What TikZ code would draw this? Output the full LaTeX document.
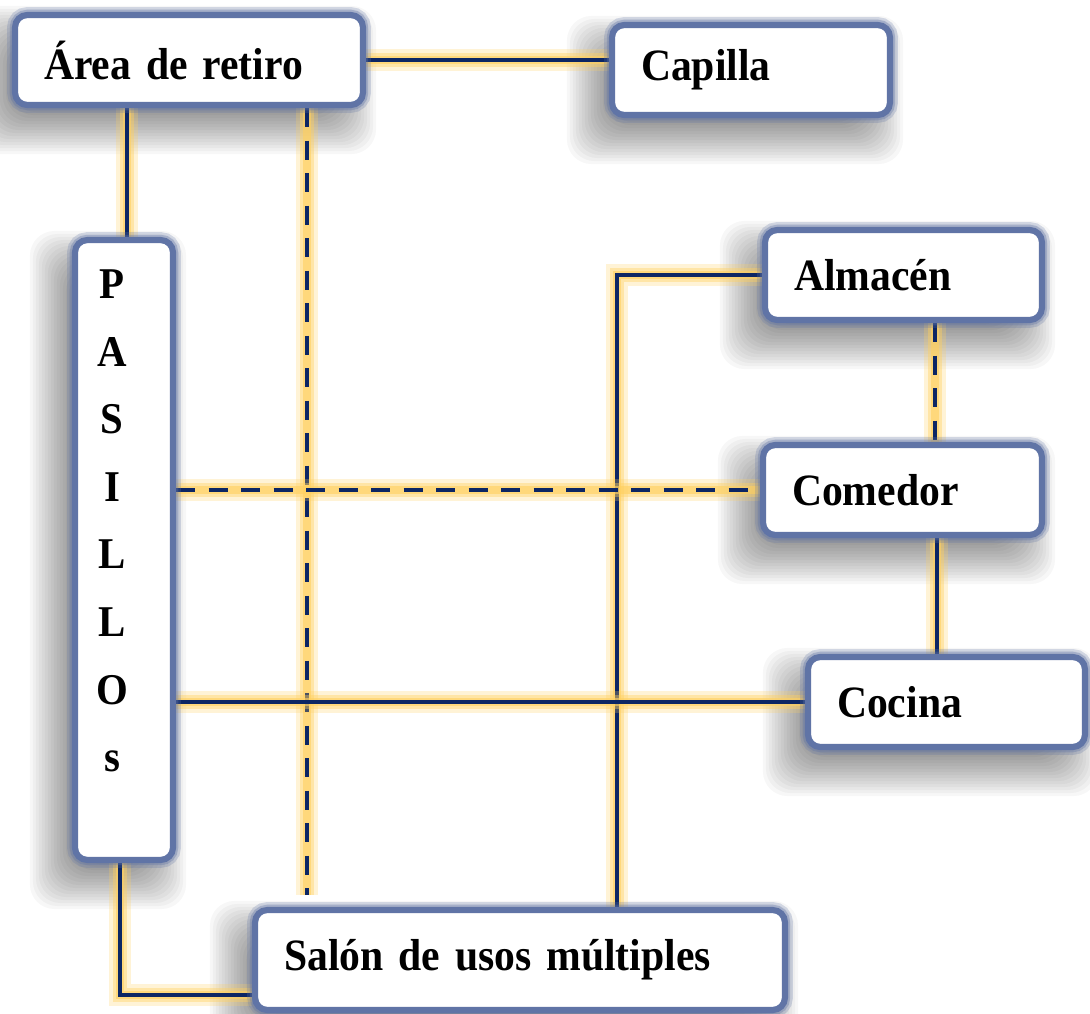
\documentclass[tikz,border=0pt]{standalone}
\usepackage{fontspec}
\setmainfont[FakeStretch=0.93]{Liberation Serif}
\usetikzlibrary{calc}
\definecolor{navy}{RGB}{12,38,100}
\definecolor{glowc}{RGB}{255,208,95}
\definecolor{boxblue}{RGB}{96,116,166}
\pgfdeclarelayer{bottom}
\pgfdeclarelayer{shadow}
\pgfdeclarelayer{lines}
\pgfsetlayers{bottom,shadow,lines,main}
\newcommand\boxfont{\fontsize{25.5}{30}\selectfont\bfseries}
\newcommand\pasfont{\fontsize{25}{38.5}\selectfont\bfseries}
\newcommand\softshadow[1]{%
  \begin{pgfonlayer}{shadow}
  \foreach \e in {26,23,...,-22} {
    \fill[black, opacity=0.03, rounded corners=14pt]
      ($(#1.north west)+(-16-\e,20-\e)$) rectangle ($(#1.south east)+(-16+\e,20+\e)$);
  }
  \end{pgfonlayer}}
\begin{document}
\begin{tikzpicture}[x=0.02cm,y=-0.02cm,
  box/.style={rectangle, rounded corners=7pt, fill=white, draw=boxblue, line width=3.5pt,
    preaction={draw=boxblue, draw opacity=.25, line width=9pt},
    preaction={draw=boxblue, draw opacity=.35, line width=6pt},
    inner xsep=0pt, inner ysep=0pt, align=left, font=\boxfont},
  conn/.style={draw=navy, line width=2.3pt,
    preaction={draw=glowc, line width=12pt, draw opacity=.25, solid},
    preaction={draw=glowc, line width=8.5pt, draw opacity=.4, solid},
    preaction={draw=glowc, line width=5pt, draw opacity=.6, solid}},
  dsh/.style={dash pattern=on 11pt off 7.5pt}]
\useasboundingbox (0,0) rectangle (1090,1014);
\begin{pgfonlayer}{bottom}
\fill[white] (0,0) rectangle (1090,1014);
\end{pgfonlayer}

\node[box, minimum width=6.96cm, minimum height=1.8cm, text width=5.8cm] (are) at (189,60) {Área de retiro};
\node[box, minimum width=5.56cm, minimum height=1.8cm, text width=4.4cm] (cap) at (751,70) {Capilla};
\node[box, minimum width=1.96cm, minimum height=12.4cm] (pas) at (124,550) {};
\node[font=\pasfont, align=center, inner sep=0pt] (pastxt) at (112,521) {P\\A\\S\\I\\L\\L\\O\\s};
\node[box, minimum width=5.54cm, minimum height=1.8cm, text width=4.38cm] (alm) at (903.5,275) {Almacén};
\node[box, minimum width=5.58cm, minimum height=1.8cm, text width=4.42cm] (com) at (902.5,490) {Comedor};
\node[box, minimum width=5.54cm, minimum height=1.8cm, text width=4.38cm] (coc) at (946.5,702) {Cocina};
\node[box, minimum width=10.6cm, minimum height=2cm, text width=9.44cm] (sal) at (520,960) {Salón de usos múltiples};

\softshadow{are}
\softshadow{cap}
\softshadow{pas}
\softshadow{alm}
\softshadow{com}
\softshadow{coc}
\softshadow{sal}

\begin{pgfonlayer}{lines}
\draw[conn] (are.east) -- (cap.west |- are.east);
\draw[conn] (127,0 |- are.south) -- (127,0 |- pas.north);
\coordinate (dend) at (307,895);
\draw[conn,dsh] (307,0 |- are.south) -- (dend);
\draw[conn] (alm.west) -| (617,0 |- sal.north);
\draw[conn,dsh] (pas.east |- com.west) -- (com.west);
\draw[conn,dsh] (935,0 |- alm.south) -- (935,0 |- com.north);
\draw[conn] (937,0 |- com.south) -- (937,0 |- coc.north);
\draw[conn] (pas.east |- coc.west) -- (coc.west);
\draw[conn] (120,0 |- pas.south) |- (sal.west |- 0,995);
\end{pgfonlayer}
\end{tikzpicture}
\end{document}
